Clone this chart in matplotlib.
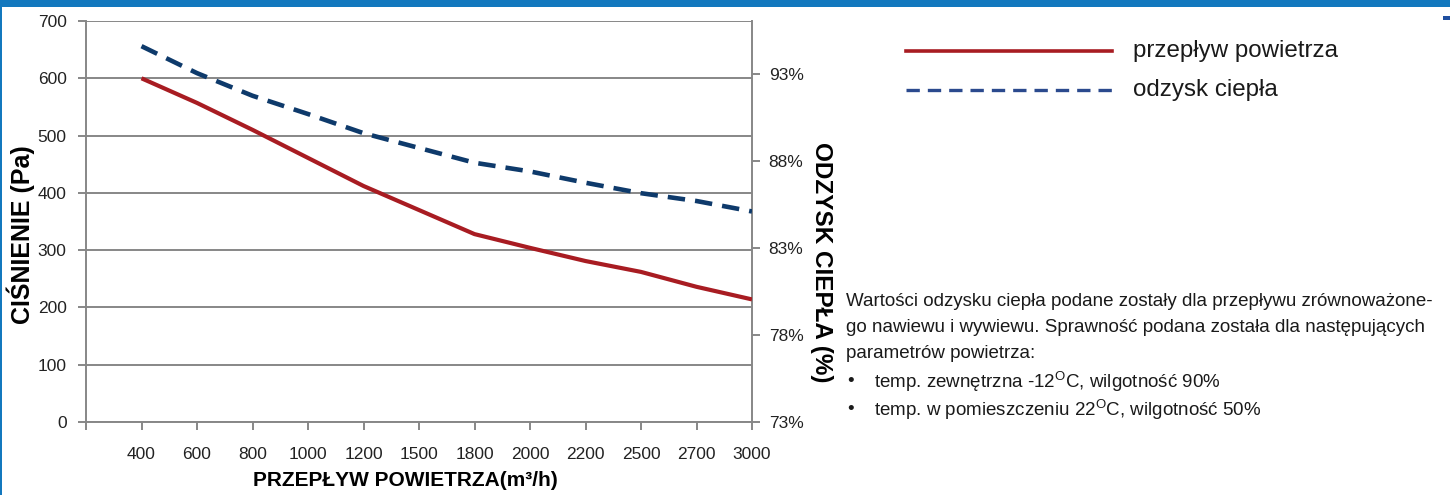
import numpy as np
import matplotlib
matplotlib.use('Agg')
import matplotlib.pyplot as plt
from matplotlib.lines import Line2D
from matplotlib.patches import Rectangle

# data
flow = ['400', '600', '800', '1000', '1200', '1500', '1800', '2000', '2200', '2500', '2700', '3000']
pressure = [600, 557, 510, 461, 412, 370, 328, 304, 281, 262, 236, 214]
recovery = [94.6, 93.05, 91.75, 90.7, 89.6, 88.75, 87.9, 87.4, 86.75, 86.15, 85.7, 85.1]

left_ticks = [0, 100, 200, 300, 400, 500, 600, 700]
right_ticks = [73, 78, 83, 88, 93]

grid_c = '#878787'
red = '#A81C22'
navy = '#0E3A6B'

lf = ['Liberation Sans', 'DejaVu Sans']
plt.rcParams['font.family'] = lf
plt.rcParams['mathtext.default'] = 'regular'

W, H = 1450, 495
fig = plt.figure(figsize=(W / 100, H / 100), dpi=100)
ax = fig.add_axes([86 / W, 1 - 422 / H, (752 - 86) / W, (422 - 21) / H])

x = np.arange(1, len(flow) + 1)

ax.set_xlim(0, len(flow))
ax.set_ylim(0, 700)
ax.set_yticks(left_ticks)
ax.set_xticks(np.arange(0, len(flow) + 1))
ax.set_xticklabels([''] + flow)
ax.grid(axis='y', color=grid_c, lw=1.4)
ax.set_axisbelow(True)
for s in ['left', 'bottom', 'right']:
    ax.spines[s].set_color(grid_c)
    ax.spines[s].set_linewidth(1.4)
ax.spines['top'].set_visible(False)
ax.tick_params(axis='both', colors=grid_c, length=6, width=1.4, labelsize=12.5, labelcolor='#222222')
ax.tick_params(axis='x', pad=12)
ax.tick_params(axis='y', pad=8)

ax.plot(x, pressure, color=red, lw=3, solid_capstyle='butt', zorder=3)

ax2 = ax.twinx()
ax2.set_ylim(73, 73 + 401 / 87 * 5)
ax2.set_yticks(right_ticks)
ax2.set_yticklabels([f'{t}%' for t in right_ticks])
ax2.tick_params(axis='y', colors=grid_c, length=6, width=1.4, labelsize=12.5, labelcolor='#222222', pad=6)
for s in ax2.spines.values():
    s.set_visible(False)
ax2.plot(x, recovery, color=navy, lw=3.3, dashes=(3.8, 2.2), zorder=3)

fig.text(21 / W, 1 - 235 / H, 'CIŚNIENIE (Pa)', rotation=90, ha='center', va='center',
         fontweight='bold', fontsize=18)
fig.text(405 / W, 1 - 481 / H, 'PRZEPŁYW POWIETRZA(m³/h)', ha='center', va='center',
         fontweight='bold', fontsize=15)
fig.text(822 / W, 1 - 262 / H, 'ODZYSK CIEPŁA (%)', rotation=-90, ha='center', va='center',
         fontweight='bold', fontsize=17.5)

# legend drawn by hand
fig.add_artist(Line2D([906 / W, 1112 / W], [1 - 51 / H, 1 - 51 / H], color=red, lw=2.6))
fig.add_artist(Line2D([906 / W, 1112 / W], [1 - 90 / H, 1 - 90 / H], color='#2B4A8E', lw=2.4, dashes=(4, 2.4)))
fig.text(1133 / W, 1 - 51 / H, 'przepływ powietrza', fontsize=17.4, va='center', color='#1a1a1a')
fig.text(1133 / W, 1 - 90 / H, 'odzysk ciepła', fontsize=17.4, va='center', color='#1a1a1a')

# note
note = ['Wartości odzysku ciepła podane zostały dla przepływu zrównoważone-',
        'go nawiewu i wywiewu. Sprawność podana została dla następujących',
        'parametrów powietrza:']
for i, t in enumerate(note):
    fig.text(846 / W, 1 - (302 + 26 * i) / H, t, fontsize=13.5, va='center', color='#1a1a1a')
bullets = ['temp. zewnętrzna -12$^{O}$C, wilgotność 90%',
           'temp. w pomieszczeniu 22$^{O}$C, wilgotność 50%']
for i, t in enumerate(bullets):
    yy = 1 - (382 + 28 * i) / H
    fig.text(847 / W, yy, '•', fontsize=13.5, va='center', color='#1a1a1a')
    fig.text(874 / W, yy, t, fontsize=13.5, va='center', color='#1a1a1a')

# frame
fig.add_artist(Rectangle((0, 1 - 7 / H), 1, 7 / H, transform=fig.transFigure, color='#1378BE', lw=0))
fig.add_artist(Rectangle((0, 0), 2 / W, 1, transform=fig.transFigure, color='#1378BE', lw=0))
fig.add_artist(Rectangle((1443 / W, 1 - 20 / H), 7 / W, 4 / H, transform=fig.transFigure, color='#1F4FA0', lw=0))

fig.savefig('out.png', dpi=100)
